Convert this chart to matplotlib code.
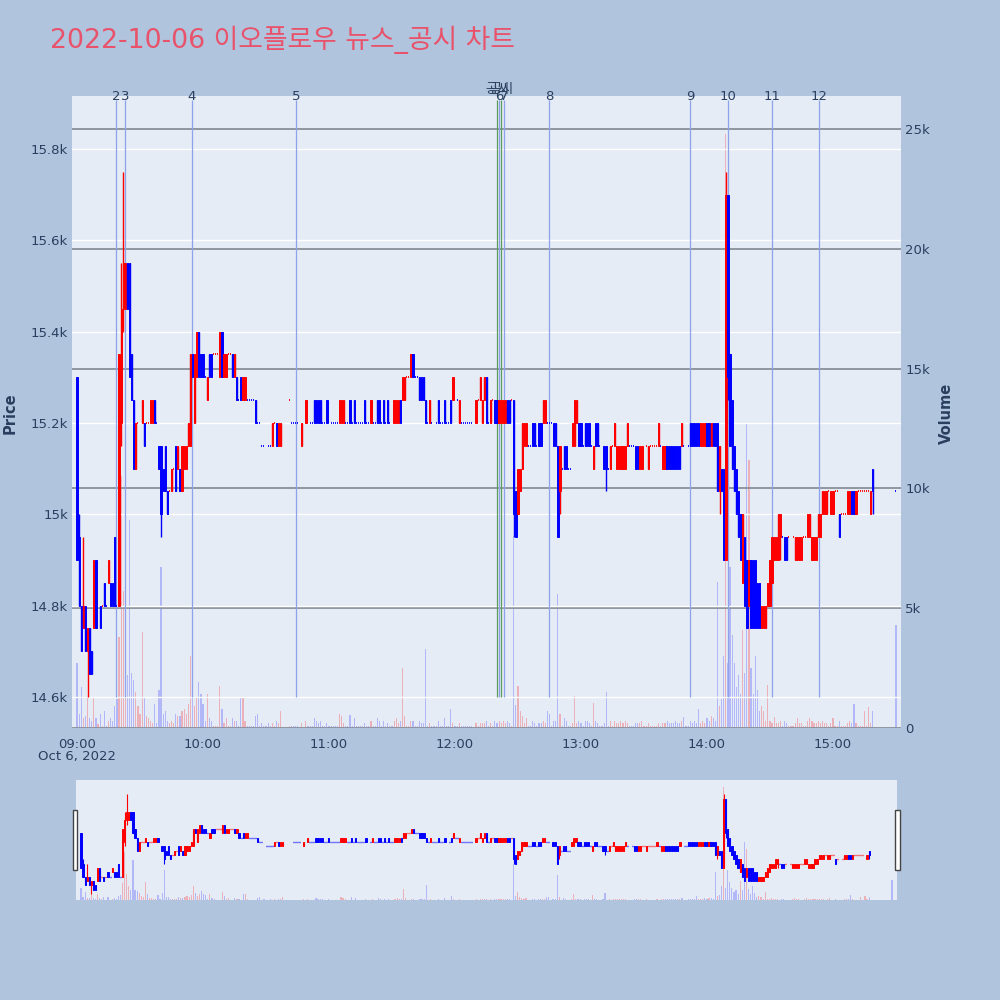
import matplotlib.pyplot as plt
from matplotlib.patches import Rectangle

plt.rcParams['font.family'] = ['DejaVu Sans', 'Noto Sans CJK KR']

TITLE = '2022-10-06 이오플로우 뉴스_공시 차트'

# 1-minute candles, minute 0 = 09:00
candle_min = [
    0, 1, 2, 3, 4, 5, 6, 7, 8, 9,
    11, 13, 15, 16, 17, 18, 20, 21, 22, 23,
    24, 25, 26, 27, 28, 31, 32, 35, 36, 37,
    39, 40, 41, 42, 43, 45, 47, 48, 49, 50,
    51, 52, 53, 54, 55, 56, 57, 58, 59, 60,
    62, 63, 64, 68, 69, 70, 71, 74, 75, 76,
    78, 79, 80, 85, 93, 95, 96, 97, 107, 109,
    113, 114, 115, 116, 119, 125, 126, 127, 130, 132,
    137, 140, 143, 144, 146, 148, 151, 152, 153, 154,
    155, 156, 159, 160, 163, 164, 165, 166, 168, 172,
    175, 178, 179, 182, 190, 192, 193, 194, 195, 197,
    199, 200, 201, 202, 203, 204, 205, 206, 208, 209,
    210, 211, 212, 213, 214, 217, 218, 220, 221, 222,
    223, 227, 228, 229, 230, 232, 233, 236, 237, 238,
    239, 240, 242, 243, 244, 246, 247, 248, 251, 252,
    254, 256, 257, 258, 259, 260, 261, 262, 266, 267,
    268, 269, 272, 277, 279, 280, 281, 282, 283, 284,
    285, 286, 287, 288, 292, 293, 294, 295, 296, 297,
    298, 299, 300, 301, 302, 303, 304, 305, 306, 307,
    308, 309, 310, 311, 312, 313, 314, 315, 316, 317,
    318, 319, 320, 321, 322, 323, 324, 325, 326, 327,
    328, 329, 330, 331, 332, 333, 334, 335, 337, 338,
    342, 343, 344, 345, 348, 349, 350, 351, 352, 353,
    354, 355, 356, 357, 359, 360, 363, 367, 368, 369,
    370, 371, 378, 379,
]
candle_open = [
    15300, 14950, 14800, 14750, 14800, 14700, 14750, 14700, 14750, 14900,
    14800, 14850, 14850, 14850, 14850, 14950, 14800, 15200, 15450, 15450,
    15550, 15550, 15350, 15250, 15100, 15200, 15200, 15200, 15200, 15250,
    15150, 15150, 15100, 15150, 15050, 15050, 15150, 15100, 15100, 15050,
    15100, 15100, 15150, 15150, 15350, 15200, 15300, 15400, 15350, 15350,
    15250, 15350, 15350, 15300, 15400, 15300, 15300, 15350, 15300, 15300,
    15300, 15250, 15250, 15250, 15150, 15200, 15150, 15150, 15150, 15200,
    15250, 15250, 15250, 15250, 15250, 15200, 15200, 15200, 15250, 15250,
    15250, 15200, 15250, 15250, 15250, 15250, 15200, 15200, 15200, 15250,
    15250, 15250, 15300, 15350, 15300, 15300, 15300, 15250, 15200, 15250,
    15250, 15250, 15250, 15200, 15200, 15250, 15200, 15250, 15300, 15200,
    15250, 15250, 15200, 15200, 15200, 15200, 15250, 15250, 15250, 15050,
    15000, 15050, 15100, 15150, 15150, 15200, 15200, 15200, 15200, 15200,
    15200, 15200, 15200, 15150, 15050, 15150, 15150, 15150, 15150, 15200,
    15200, 15200, 15200, 15200, 15200, 15100, 15200, 15200, 15150, 15150,
    15100, 15150, 15100, 15100, 15100, 15100, 15100, 15150, 15150, 15150,
    15100, 15100, 15100, 15150, 15100, 15100, 15150, 15150, 15150, 15150,
    15150, 15150, 15150, 15150, 15200, 15200, 15200, 15200, 15200, 15150,
    15150, 15150, 15200, 15200, 15150, 15200, 15200, 15200, 15050, 15100,
    15100, 14900, 15700, 15350, 15250, 15150, 15100, 15050, 15000, 14850,
    14950, 14900, 14800, 14900, 14900, 14900, 14850, 14850, 14750, 14750,
    14750, 14800, 14800, 14850, 14900, 14900, 14900, 14950, 14950, 14950,
    14900, 14900, 14900, 14900, 14950, 14950, 14900, 14900, 14900, 14950,
    14950, 15000, 15000, 15000, 15000, 15000, 15000, 15000, 15000, 15050,
    15050, 15000, 15000, 15100,
]
candle_high = [
    15300, 15000, 14800, 14950, 14800, 14750, 14750, 14700, 14900, 14900,
    14800, 14850, 14900, 14850, 14850, 14950, 15350, 15550, 15750, 15550,
    15550, 15550, 15350, 15250, 15200, 15250, 15200, 15250, 15250, 15250,
    15150, 15150, 15100, 15150, 15050, 15100, 15150, 15150, 15100, 15150,
    15150, 15150, 15200, 15350, 15350, 15350, 15400, 15400, 15350, 15350,
    15300, 15350, 15350, 15400, 15400, 15350, 15350, 15350, 15350, 15300,
    15300, 15300, 15300, 15250, 15200, 15200, 15200, 15200, 15200, 15250,
    15250, 15250, 15250, 15250, 15250, 15250, 15250, 15250, 15250, 15250,
    15250, 15250, 15250, 15250, 15250, 15250, 15250, 15250, 15250, 15250,
    15300, 15300, 15350, 15350, 15300, 15300, 15300, 15250, 15250, 15250,
    15250, 15250, 15300, 15250, 15250, 15300, 15250, 15300, 15300, 15250,
    15250, 15250, 15250, 15250, 15250, 15250, 15250, 15250, 15250, 15050,
    15100, 15100, 15200, 15200, 15200, 15200, 15200, 15200, 15200, 15250,
    15250, 15200, 15200, 15150, 15150, 15150, 15150, 15200, 15250, 15250,
    15200, 15200, 15200, 15200, 15200, 15150, 15200, 15200, 15150, 15150,
    15150, 15200, 15150, 15150, 15150, 15150, 15150, 15200, 15150, 15150,
    15150, 15150, 15150, 15200, 15150, 15150, 15150, 15150, 15150, 15150,
    15150, 15150, 15150, 15200, 15200, 15200, 15200, 15200, 15200, 15200,
    15200, 15200, 15200, 15200, 15200, 15200, 15200, 15200, 15150, 15100,
    15100, 15750, 15700, 15350, 15250, 15150, 15100, 15050, 15000, 15000,
    14950, 14900, 14900, 14900, 14900, 14900, 14850, 14850, 14800, 14800,
    14800, 14850, 14900, 14950, 14950, 14950, 15000, 15000, 14950, 14950,
    14950, 14950, 14950, 14950, 15000, 15000, 14950, 14950, 14950, 15000,
    15000, 15050, 15050, 15050, 15050, 15050, 15000, 15050, 15050, 15050,
    15050, 15050, 15050, 15100,
]
candle_low = [
    14900, 14800, 14700, 14750, 14700, 14600, 14650, 14650, 14750, 14750,
    14750, 14800, 14850, 14800, 14800, 14800, 14800, 15150, 15400, 15450,
    15450, 15300, 15250, 15100, 15100, 15200, 15150, 15200, 15200, 15200,
    15100, 14950, 15050, 15050, 15000, 15050, 15050, 15100, 15050, 15050,
    15100, 15100, 15150, 15150, 15300, 15200, 15300, 15300, 15300, 15300,
    15250, 15300, 15300, 15300, 15300, 15300, 15300, 15300, 15300, 15250,
    15250, 15250, 15250, 15200, 15150, 15150, 15150, 15150, 15150, 15200,
    15200, 15200, 15200, 15200, 15200, 15200, 15200, 15200, 15200, 15200,
    15200, 15200, 15200, 15200, 15200, 15200, 15200, 15200, 15200, 15200,
    15250, 15250, 15300, 15300, 15250, 15250, 15250, 15200, 15200, 15200,
    15200, 15200, 15250, 15200, 15200, 15250, 15200, 15250, 15200, 15200,
    15200, 15200, 15200, 15200, 15200, 15200, 15200, 15200, 14950, 14950,
    15000, 15050, 15100, 15150, 15150, 15150, 15150, 15150, 15150, 15200,
    15200, 15150, 15150, 14950, 15000, 15100, 15100, 15150, 15150, 15200,
    15150, 15150, 15150, 15150, 15150, 15100, 15150, 15150, 15100, 15050,
    15100, 15150, 15100, 15100, 15100, 15100, 15100, 15150, 15100, 15100,
    15100, 15100, 15100, 15150, 15100, 15100, 15100, 15100, 15100, 15100,
    15100, 15100, 15100, 15150, 15150, 15150, 15150, 15150, 15150, 15150,
    15150, 15150, 15150, 15150, 15150, 15150, 15150, 15050, 15000, 15050,
    14900, 14900, 15250, 15150, 15100, 15050, 15000, 14950, 14900, 14850,
    14800, 14750, 14800, 14750, 14750, 14750, 14750, 14750, 14750, 14750,
    14750, 14800, 14800, 14850, 14900, 14900, 14900, 14900, 14900, 14900,
    14900, 14900, 14900, 14900, 14950, 14950, 14900, 14900, 14900, 14950,
    14950, 15000, 15000, 15000, 15000, 15000, 14950, 15000, 15000, 15000,
    15000, 15000, 15000, 15000,
]
candle_close = [
    14900, 14800, 14700, 14800, 14700, 14750, 14650, 14650, 14900, 14750,
    14750, 14800, 14900, 14800, 14800, 14800, 15350, 15450, 15550, 15550,
    15450, 15300, 15250, 15100, 15200, 15250, 15150, 15250, 15250, 15200,
    15100, 15000, 15050, 15050, 15000, 15100, 15050, 15150, 15050, 15150,
    15150, 15150, 15200, 15350, 15300, 15350, 15400, 15300, 15300, 15300,
    15300, 15300, 15300, 15400, 15300, 15350, 15350, 15300, 15350, 15250,
    15250, 15300, 15300, 15200, 15200, 15150, 15200, 15200, 15200, 15250,
    15200, 15200, 15200, 15200, 15200, 15250, 15250, 15250, 15200, 15200,
    15200, 15250, 15200, 15200, 15200, 15200, 15250, 15250, 15250, 15200,
    15300, 15300, 15350, 15300, 15250, 15250, 15250, 15200, 15250, 15200,
    15200, 15200, 15300, 15250, 15250, 15300, 15250, 15300, 15200, 15250,
    15200, 15200, 15250, 15250, 15250, 15250, 15200, 15200, 15000, 14950,
    15100, 15100, 15200, 15200, 15200, 15150, 15150, 15150, 15150, 15250,
    15250, 15150, 15150, 14950, 15150, 15100, 15100, 15200, 15250, 15250,
    15150, 15150, 15150, 15150, 15150, 15150, 15150, 15150, 15100, 15100,
    15150, 15200, 15150, 15150, 15150, 15150, 15150, 15200, 15100, 15100,
    15150, 15150, 15150, 15200, 15150, 15150, 15100, 15100, 15100, 15100,
    15100, 15100, 15100, 15200, 15150, 15150, 15150, 15150, 15150, 15200,
    15200, 15200, 15150, 15150, 15200, 15150, 15150, 15050, 15150, 15050,
    14900, 15700, 15300, 15150, 15100, 15050, 15000, 14950, 14900, 15000,
    14800, 14750, 14900, 14750, 14750, 14750, 14750, 14750, 14800, 14800,
    14800, 14850, 14900, 14950, 14950, 14950, 15000, 15000, 14900, 14900,
    14950, 14950, 14950, 14950, 15000, 15000, 14950, 14950, 14950, 15000,
    15000, 15050, 15050, 15050, 15050, 15050, 14950, 15050, 15050, 15000,
    15000, 15050, 15050, 15050,
]
candle_vol = [
    2700, 600, 1700, 400, 500, 1300, 400, 300, 1300, 400,
    600, 700, 300, 400, 300, 900, 3800, 10500, 5700, 3000,
    2200, 8700, 2300, 2000, 1500, 4000, 1300, 300, 200, 1000,
    1600, 6700, 600, 700, 300, 300, 600, 500, 500, 700,
    800, 600, 1000, 3000, 1600, 900, 1300, 1900, 1400, 1000,
    1400, 400, 300, 1750, 800, 200, 400, 400, 300, 300,
    1250, 1270, 300, 500, 200, 300, 200, 700, 200, 300,
    400, 300, 200, 300, 200, 600, 500, 200, 550, 400,
    200, 300, 400, 300, 300, 200, 300, 400, 200, 300,
    2500, 500, 300, 300, 300, 200, 200, 3300, 200, 300,
    400, 800, 200, 200, 200, 200, 200, 200, 300, 200,
    300, 200, 300, 200, 300, 200, 300, 200, 8000, 950,
    1750, 700, 500, 200, 400, 300, 200, 200, 200, 300,
    200, 300, 300, 5600, 600, 400, 300, 200, 1350, 200,
    300, 200, 300, 300, 200, 1030, 300, 200, 200, 1500,
    300, 300, 200, 200, 300, 200, 300, 200, 200, 200,
    200, 300, 200, 200, 200, 200, 300, 200, 200, 200,
    300, 200, 200, 300, 300, 200, 300, 200, 800, 200,
    300, 200, 400, 300, 500, 400, 300, 6100, 900, 1200,
    3000, 24800, 2700, 6700, 3900, 2700, 1700, 2200, 1400, 4100,
    2300, 12700, 11200, 2500, 1400, 3000, 1600, 700, 900, 700,
    300, 1800, 300, 200, 470, 200, 200, 300, 300, 200,
    200, 400, 200, 200, 300, 400, 300, 200, 200, 300,
    200, 300, 200, 200, 200, 400, 300, 200, 300, 200,
    1000, 200, 200, 700,
]

# minutes where open == high == low == close
flat_min = [
    10, 12, 14, 19, 29, 30, 33, 34, 38, 44,
    46, 61, 65, 66, 67, 72, 73, 77, 81, 82,
    83, 84, 86, 87, 88, 89, 90, 91, 92, 94,
    101, 102, 103, 104, 105, 110, 111, 112, 117, 118,
    120, 121, 122, 123, 124, 128, 129, 131, 133, 134,
    135, 136, 138, 139, 141, 142, 145, 147, 149, 150,
    157, 158, 161, 162, 167, 169, 170, 171, 173, 174,
    176, 177, 180, 181, 183, 184, 185, 186, 187, 188,
    191, 196, 198, 207, 215, 216, 219, 224, 225, 226,
    231, 234, 235, 241, 245, 249, 250, 253, 255, 263,
    264, 265, 270, 271, 273, 274, 275, 276, 278, 289,
    290, 291, 336, 339, 340, 341, 346, 347, 358, 361,
    362, 364, 365, 366, 372, 373, 374, 375, 376, 377,
    390,
]
flat_price = [
    14800, 14800, 14800, 14800, 15200, 15200, 15200, 15200, 15200, 15050,
    15100, 15300, 15350, 15350, 15350, 15350, 15350, 15250, 15250, 15250,
    15250, 15250, 15200, 15200, 15150, 15150, 15150, 15150, 15150, 15200,
    15250, 15200, 15200, 15200, 15200, 15200, 15200, 15200, 15200, 15200,
    15200, 15200, 15200, 15200, 15200, 15200, 15200, 15200, 15200, 15200,
    15200, 15200, 15200, 15200, 15200, 15200, 15200, 15200, 15200, 15200,
    15300, 15300, 15300, 15300, 15200, 15200, 15200, 15200, 15200, 15200,
    15200, 15200, 15250, 15250, 15200, 15200, 15200, 15200, 15200, 15200,
    15250, 15200, 15250, 15250, 15150, 15150, 15150, 15200, 15200, 15200,
    15100, 15100, 15100, 15150, 15150, 15150, 15150, 15100, 15150, 15150,
    15150, 15150, 15150, 15150, 15150, 15150, 15150, 15150, 15150, 15150,
    15150, 15150, 14950, 14950, 14950, 14950, 14950, 14950, 15050, 15050,
    15050, 15000, 15000, 15000, 15050, 15050, 15050, 15050, 15050, 15050,
    15050,
]
flat_vol = [
    150, 100, 100, 1200, 900, 600, 500, 400, 200, 200,
    200, 300, 100, 100, 100, 100, 100, 100, 100, 100,
    100, 100, 600, 100, 200, 100, 100, 200, 100, 100,
    100, 100, 100, 100, 100, 100, 100, 100, 100, 100,
    100, 100, 100, 100, 100, 100, 100, 100, 100, 100,
    100, 100, 100, 100, 100, 100, 100, 100, 100, 100,
    100, 100, 100, 100, 100, 100, 100, 100, 100, 100,
    100, 100, 100, 100, 100, 100, 100, 100, 100, 100,
    100, 100, 100, 100, 100, 100, 100, 700, 600, 100,
    100, 100, 100, 100, 100, 100, 100, 100, 100, 100,
    100, 100, 100, 100, 100, 100, 100, 100, 100, 440,
    100, 100, 100, 100, 100, 100, 100, 100, 100, 100,
    100, 100, 100, 100, 100, 100, 100, 700, 100, 870,
    4300,
]

# news / disclosure markers (minutes after 09:00)
news_labels = ['2', '3', '4', '5', '6', '7', '8', '9', '10', '11', '12']
news_min = [18.7, 22.9, 54.6, 104.2, 200.9, 203.3, 224.9, 292.0, 310.1, 331.1, 353.5]
disc_min = [200.1, 202.0]

hour_ticks = [0, 60, 120, 180, 240, 300, 360]
hour_labels = ['09:00', '10:00', '11:00', '12:00', '13:00', '14:00', '15:00']
price_ticks = [14600, 14800, 15000, 15200, 15400, 15600, 15800]
price_labels = ['14.6k', '14.8k', '15k', '15.2k', '15.4k', '15.6k', '15.8k']
vol_ticks = [0, 5000, 10000, 15000, 20000, 25000]
vol_labels = ['0', '5k', '10k', '15k', '20k', '25k']

# merge candles and flat ticks in time order
rows = sorted(
    list(zip(candle_min, candle_open, candle_high, candle_low, candle_close, candle_vol))
    + [(m, p, p, p, p, v) for m, p, v in zip(flat_min, flat_price, flat_vol)]
)

# plotly direction rule: flat candles follow the previous close
up = []
prev_c = None
inc = True
for m, o, h, l, c, v in rows:
    if c != o:
        inc = c > o
    elif prev_c is not None and c != prev_c:
        inc = c > prev_c
    up.append(inc)
    prev_c = c

XLIM = (-2.4, 392.4)
PLIM = (14532, 15916)
VLIM = (0, 26380)
BG = '#E5ECF6'
TXT = '#2a3f5f'


def draw(axp, axv, body_w, wick_lw, flat_lw):
    ms = [r[0] for r in rows]
    vols = [r[5] for r in rows]
    vcol = [(1, 0, 0, 0.25) if u else (0, 0, 1, 0.22) for u in up]
    axv.bar(ms, vols, width=0.55, color=vcol, linewidth=0)
    for (m, o, h, l, c, v), u in zip(rows, up):
        col = '#ff0000' if u else '#0000ff'
        if h > l:
            axp.vlines(m, l, h, color=col, lw=wick_lw, zorder=3)
        if o == c:
            axp.hlines(o, m - 0.22, m + 0.22, color=col, lw=flat_lw, zorder=3,
                       capstyle='butt')
        else:
            axp.bar(m, abs(c - o), bottom=min(o, c), width=body_w, color=col,
                    edgecolor=col, linewidth=0.7, zorder=3)


fig = plt.figure(figsize=(10, 10), dpi=100)
fig.patch.set_facecolor('#B0C4DE')

# main chart: volume axis behind, price axis on top
axv = fig.add_axes([0.072, 0.272, 0.829, 0.632])
axp = axv.twinx()
axv.set_zorder(1)
axp.set_zorder(2)
axp.patch.set_visible(False)
axv.set_facecolor(BG)

draw(axp, axv, 0.6, 1.0, 1.3)

axp.set_xlim(*XLIM)
axp.set_ylim(*PLIM)
axv.set_ylim(*VLIM)

axv.yaxis.tick_right()
axp.yaxis.tick_left()
axv.set_yticks(vol_ticks)
axv.set_yticklabels(vol_labels)
axp.set_yticks(price_ticks)
axp.set_yticklabels(price_labels)
axv.set_xticks(hour_ticks)
axv.set_xticklabels(hour_labels)
axv.grid(axis='y', color='#8a8f99', lw=1.3)
axp.grid(axis='y', color='white', lw=1.0, zorder=0)
axp.set_axisbelow(True)
for a in (axv, axp):
    for s in a.spines.values():
        s.set_visible(False)
    a.tick_params(length=0, labelsize=9.5, labelcolor=TXT, pad=3)
axv.tick_params(axis='x', pad=7)
axp.tick_params(axis='y', pad=3)
axv.text(0, -0.045, 'Oct 6, 2022', transform=axv.get_xaxis_transform(),
         ha='center', va='center', fontsize=9.5, color=TXT)

# news and disclosure lines
axp.vlines(news_min, 14600, 15907, color='#8da2ea', lw=0.9, zorder=2)
axp.vlines(disc_min, 14600, 15907, color='#5c9c5c', lw=0.9, zorder=2)
for m, lab in zip(news_min, news_labels):
    axp.text(m, 1.0, lab, transform=axp.get_xaxis_transform(), ha='center', va='center',
             fontsize=9.5, color=TXT, zorder=5, clip_on=False)
for m in disc_min:
    axp.text(m, 1.01, '공시', transform=axp.get_xaxis_transform(), ha='center', va='center',
             fontsize=9.5, color=TXT, zorder=5, clip_on=False)

fig.text(0.010, 0.587, 'Price', rotation=90, ha='center', va='center',
         fontsize=10.5, fontweight='bold', color=TXT)
fig.text(0.946, 0.587, 'Volume', rotation=90, ha='center', va='center',
         fontsize=10.5, fontweight='bold', color=TXT)
fig.text(0.050, 0.960, TITLE, ha='left', va='center', fontsize=19.3, color='#e8536b')

# range slider
sv = fig.add_axes([0.076, 0.100, 0.821, 0.120])
sp = sv.twinx()
sv.set_zorder(1)
sp.set_zorder(2)
sp.patch.set_visible(False)
sv.set_facecolor(BG)
draw(sp, sv, 0.6, 0.8, 1.0)
sp.set_xlim(*XLIM)
sp.set_ylim(*PLIM)
sv.set_ylim(*VLIM)
for a in (sv, sp):
    a.set_xticks([])
    a.set_yticks([])
    for s in a.spines.values():
        s.set_visible(False)
for x0 in (0.0726, 0.8952):
    fig.patches.append(Rectangle((x0, 0.130), 0.0044, 0.060, transform=fig.transFigure,
                                 facecolor='white', edgecolor='#444444', lw=1.0, zorder=10))

fig.savefig('out.png', dpi=100, facecolor=fig.get_facecolor())
